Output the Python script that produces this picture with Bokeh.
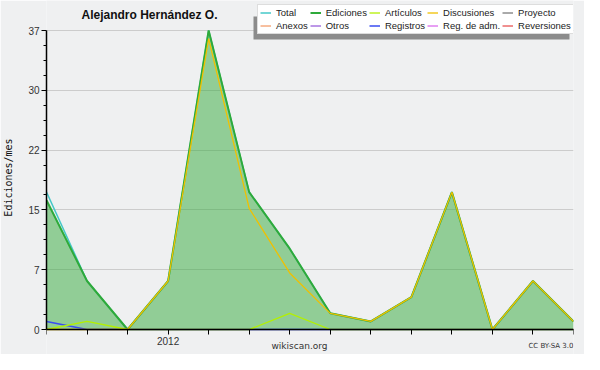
from bokeh.plotting import figure
from bokeh.models import (FixedTicker, CustomJSTickFormatter, Legend, LegendItem,
                          Range1d, Label, BoxAnnotation)
from bokeh.embed import file_html
from bokeh.resources import INLINE

# ---- data (monthly, Oct 2011 .. Nov 2012) ----
months = ["2011-10", "2011-11", "2011-12", "2012-01", "2012-02", "2012-03", "2012-04",
          "2012-05", "2012-06", "2012-07", "2012-08", "2012-09", "2012-10", "2012-11"]
x_labels = ["", "", "", "2012", "", "", "", "", "", "", "", "", "", ""]
total = [17, 6, 0, 6, 37, 17, 10, 2, 1, 4, 17, 0, 6, 1]
ediciones = [16, 6, 0, 6, 37, 17, 10, 2, 1, 4, 17, 0, 6, 1]
articulos = [0, 1, 0, 0, 0, 0, 2, 0, 0, 0, 0, 0, 0, 0]
discusiones = [0, 0, 0, 6, 36, 15, 7, 2, 1, 4, 17, 0, 6, 1]
proyecto = [0, 0, 0, 0, 0, 0, 0, 0, 0, 0, 0, 0, 0, 0]
anexos = [0, 0, 0, 0, 0, 0, 0, 0, 0, 0, 0, 0, 0, 0]
otros = [0, 0, 0, 0, 0, 0, 0, 0, 0, 0, 0, 0, 0, 0]
registros = [1, 0, 0, 0, 0, 0, 0, 0, 0, 0, 0, 0, 0, 0]
reg_adm = [0, 0, 0, 0, 0, 0, 0, 0, 0, 0, 0, 0, 0, 0]
reversiones = [0, 0, 0, 0, 0, 0, 0, 0, 0, 0, 0, 0, 0, 0]
y_ticks = [0, 7.4, 14.8, 22.2, 29.6, 37]
y_max = 37

x = list(range(len(months)))

W, H = 584, 354
LEFT, RIGHT = 46, 11
Y0_PX, YTOP_PX = 329, 30            # canvas rows of y=0 and y=y_max
ppu = (Y0_PX - YTOP_PX) / y_max
y_start = -(H - Y0_PX) / ppu
y_end = y_max + YTOP_PX / ppu

BG = "#eff0f1"
p = figure(width=W, height=H, output_backend="svg", toolbar_location=None,
           x_range=Range1d(0, len(months) - 1), y_range=Range1d(y_start, y_end),
           min_border_left=LEFT, min_border_right=RIGHT, min_border_top=0, min_border_bottom=0)
p.background_fill_color = BG
p.border_fill_color = BG
p.outline_line_color = None

# axes
p.xaxis.fixed_location = 0
p.xaxis.bounds = (0, len(months) - 1)
p.xaxis.ticker = FixedTicker(ticks=x)
p.xaxis.formatter = CustomJSTickFormatter(args=dict(labels=x_labels),
                                          code="return labels[Math.round(tick)] || '';")
minor = []
for i in range(len(y_ticks) - 1):
    step = (y_ticks[i + 1] - y_ticks[i]) / 4
    minor += [y_ticks[i] + k * step for k in (1, 2, 3)]
p.yaxis.ticker = FixedTicker(ticks=y_ticks, minor_ticks=minor)
p.yaxis.bounds = (0, y_max)
p.yaxis.formatter = CustomJSTickFormatter(code="return Math.round(tick).toString();")
for ax in (p.xaxis[0], p.yaxis[0]):
    ax.axis_line_color = "black"
    ax.axis_line_width = 1.5
    ax.major_tick_line_color = "black"
    ax.minor_tick_line_color = "black"
    ax.major_tick_in = 0
    ax.major_tick_out = 5
    ax.minor_tick_in = 0
    ax.minor_tick_out = 3
    ax.major_label_text_font = "Liberation Sans"
    ax.major_label_text_font_size = "10px"
    ax.major_label_text_color = "#333333"
    ax.major_label_standoff = 2
p.xaxis.minor_tick_line_color = None
p.yaxis.axis_label = "Ediciones/mes"
p.yaxis.axis_label_text_font = "DejaVu Sans Mono"
p.yaxis.axis_label_text_font_size = "10px"
p.yaxis.axis_label_text_font_style = "normal"
p.yaxis.axis_label_text_color = "#111111"
p.yaxis.axis_label_standoff = 11
p.xgrid.grid_line_color = None
p.ygrid.grid_line_color = "#cccccc"
p.ygrid.grid_line_width = 1

# zero series underneath
r_proy = p.line(x, proyecto, line_color="#555555", line_width=1)
r_anex = p.line(x, anexos, line_color="#f08040", line_width=1)
r_otros = p.line(x, otros, line_color="#7a30d0", line_width=1)
r_radm = p.line(x, reg_adm, line_color="#d040e8", line_width=1)
r_rev = p.line(x, reversiones, line_color="#e02020", line_width=1)

p.varea(x=x, y1=[0] * len(x), y2=ediciones, fill_color="#33aa3c", fill_alpha=0.5)
r_total = p.line(x, total, line_color="#45c8c8", line_width=1.5)
r_edic = p.line(x, ediciones, line_color="#2eaa3a", line_width=2)
r_reg = p.line(x, registros, line_color="#3a4cf0", line_width=1.5)
r_art = p.line(x, articulos, line_color="#b4f000", line_width=1.3)
r_disc = p.line(x, discusiones, line_color="#f0c000", line_width=1.3)

# legend box geometry (canvas px)
LG_L, LG_B = 257, 34
# shadow of the legend box (frame-relative screen units, y up)
p.add_layout(BoxAnnotation(left=LG_L - 4 - LEFT, right=569 - LEFT,
                           bottom=H - (LG_B + 5), top=H - 16,
                           left_units="screen", right_units="screen",
                           top_units="screen", bottom_units="screen",
                           fill_color="#8c8c8c", fill_alpha=1, line_color=None,
                           level="annotation"))

legend = Legend(items=[
    LegendItem(label="Total", renderers=[r_total]),
    LegendItem(label="Ediciones", renderers=[r_edic]),
    LegendItem(label="Artículos", renderers=[r_art]),
    LegendItem(label="Discusiones", renderers=[r_disc]),
    LegendItem(label="Proyecto", renderers=[r_proy]),
    LegendItem(label="Anexos", renderers=[r_anex]),
    LegendItem(label="Otros", renderers=[r_otros]),
    LegendItem(label="Registros", renderers=[r_reg]),
    LegendItem(label="Reg. de adm.", renderers=[r_radm]),
    LegendItem(label="Reversiones", renderers=[r_rev]),
], orientation="horizontal", ncols=5, location=(LG_L - LEFT, H - LG_B))
legend.label_text_font = "Liberation Sans"
legend.label_text_font_size = "9.5px"
legend.label_text_color = "#222222"
legend.label_height = 9
legend.glyph_height = 9
legend.glyph_width = 11
legend.label_standoff = 5
legend.spacing = 2
legend.padding = 2
legend.margin = 0
legend.background_fill_color = "white"
legend.background_fill_alpha = 1
legend.border_line_color = "#bbbbbb"
legend.border_line_width = 1
p.add_layout(legend, "center")

# title and footers (screen units: from frame left / frame bottom)
p.add_layout(Label(x=149 - LEFT, y=H - 14, x_units="screen", y_units="screen",
                   text="Alejandro Hernández O.", text_font="Liberation Sans",
                   text_font_style="bold", text_font_size="12px", text_color="#111111",
                   text_align="center", text_baseline="middle"))
p.add_layout(Label(x=299 - LEFT, y=9, x_units="screen", y_units="screen",
                   text="wikiscan.org", text_font="DejaVu Sans",
                   text_font_size="9px", text_color="#333333",
                   text_align="center", text_baseline="middle"))
p.add_layout(Label(x=W - RIGHT - LEFT, y=9, x_units="screen", y_units="screen",
                   text="CC BY-SA 3.0", text_font="DejaVu Sans",
                   text_font_size="7px", text_color="#333333",
                   text_align="right", text_baseline="middle"))

open("out.html", "w").write(file_html(p, INLINE))
